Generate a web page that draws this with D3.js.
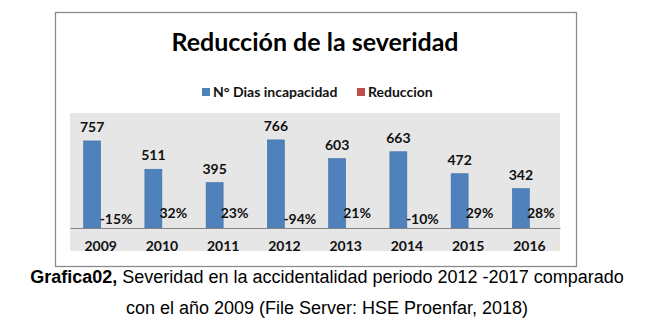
<!DOCTYPE html>
<html><head><meta charset="utf-8">
<script src="https://cdn.jsdelivr.net/npm/d3@7"></script>
<style>body{margin:0;background:#fff}svg{display:block}</style>
</head><body>
<svg id="c" width="657" height="328"></svg>
<script>
const years = ["2009","2010","2011","2012","2013","2014","2015","2016"];
const diasIncapacidad = [757,511,395,766,603,663,472,342];
const reduccion = [-0.15,0.32,0.23,-0.94,0.21,-0.10,0.29,0.28];
const seriesNames = ["N° Dias incapacidad","Reduccion"];
const seriesColors = ["#4F81BD","#C0504D"];
const title = "Reducción de la severidad";

const svg = d3.select("#c");
const F = "Lato, 'Open Sans', sans-serif";

// outer frame
svg.append("rect").attr("x",55.5).attr("y",12.5).attr("width",521).attr("height",254)
  .attr("fill","#fff").attr("stroke","#8a8a8a").attr("stroke-width",1.3);

const plot = {l:70, r:560, t:113, b:228, bg:251};
svg.append("rect").attr("x",plot.l).attr("y",plot.t).attr("width",plot.r-plot.l).attr("height",plot.bg-plot.t)
  .attr("fill","#e6e6e6");

const x = d3.scaleBand().domain(years).range([plot.l,plot.r]).paddingInner(0.445).paddingOuter(0.2225);
const xs = d3.scaleBand().domain([0,1]).range([0,x.bandwidth()]);
const y = d3.scaleLinear().domain([0,1000]).range([plot.b,plot.t]);

// blue bars
svg.append("g").selectAll("rect").data(diasIncapacidad).join("rect")
  .attr("x",(d,i)=>x(years[i])+xs(0)).attr("width",xs.bandwidth())
  .attr("y",d=>y(d)).attr("height",d=>y(0)-y(d))
  .attr("fill",seriesColors[0]).attr("stroke","#3f6ea3").attr("stroke-width",0.6);
// red bars (tiny on this scale)
svg.append("g").selectAll("rect").data(reduccion).join("rect")
  .attr("x",(d,i)=>x(years[i])+xs(1)).attr("width",xs.bandwidth())
  .attr("y",d=>Math.min(y(d),y(0))).attr("height",d=>Math.abs(y(0)-y(d)))
  .attr("fill",seriesColors[1]);

// axis
const ax = svg.append("g").attr("transform",`translate(0,${plot.b})`)
  .call(d3.axisBottom(x).tickSize(0).tickPadding(13));
ax.select(".domain").attr("stroke","#868686").attr("stroke-width",1);
ax.selectAll("text").attr("font-family",F).attr("font-weight","bold").attr("font-size",14).attr("fill","#111");

// value labels
svg.append("g").selectAll("text").data(diasIncapacidad).join("text")
  .attr("x",(d,i)=>x(years[i])+xs(0)+xs.bandwidth()/2).attr("y",d=>y(d)-9)
  .attr("text-anchor","middle").attr("font-family",F).attr("font-weight","bold").attr("font-size",14).attr("fill","#111")
  .text(d=>d);
svg.append("g").selectAll("text").data(reduccion).join("text")
  .attr("x",(d,i)=>x(years[i])+xs(1)+xs.bandwidth()/2+(d<0?7:3)).attr("y",d=>d<0?y(0)-4:y(0)-10)
  .attr("text-anchor","middle").attr("font-family",F).attr("font-weight","bold").attr("font-size",14).attr("fill","#111")
  .text(d=>d3.format(".0%")(d).replace("−","-"));

// title
svg.append("text").attr("x",315).attr("y",51).attr("text-anchor","middle")
  .attr("font-family",F).attr("font-weight","bold").attr("font-size",25).attr("fill","#000").text(title);

// legend
const lg = svg.append("g");
const lx = [202,357];
seriesNames.forEach((n,i)=>{
  lg.append("rect").attr("x",lx[i]).attr("y",88).attr("width",8).attr("height",8).attr("fill",seriesColors[i]);
  lg.append("text").attr("x",lx[i]+11).attr("y",97).attr("font-family",F).attr("font-weight","bold")
    .attr("font-size",14).attr("fill","#111").text(n);
});

// caption
const cap = svg.append("text").attr("text-anchor","middle").attr("font-family","'Liberation Sans', Arial, sans-serif")
  .attr("font-size",18).attr("fill","#000");
const t1 = cap.append("tspan").attr("x",327).attr("y",283);
t1.append("tspan").attr("font-weight","bold").text("Grafica02,");
t1.append("tspan").text(" Severidad en la accidentalidad periodo 2012 -2017 comparado");
cap.append("tspan").attr("x",327).attr("y",314).text("con el año 2009 (File Server: HSE Proenfar, 2018)");
</script>
</body></html>
